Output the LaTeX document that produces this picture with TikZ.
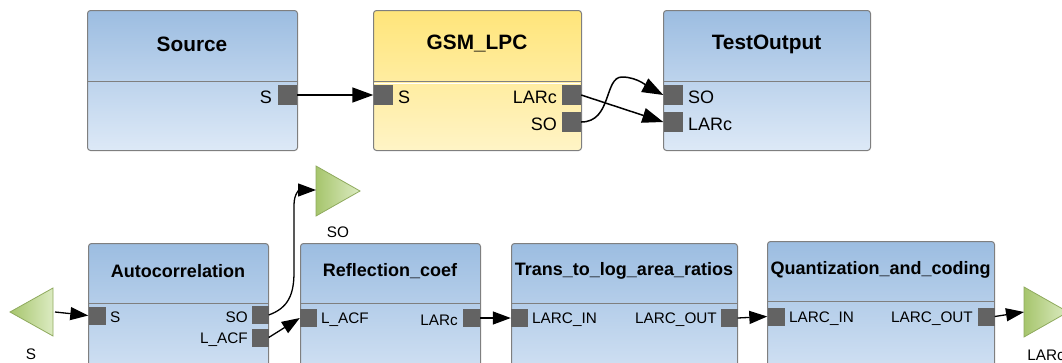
\documentclass[tikz,border=0pt]{standalone}
\usepackage{fontspec}
\setmainfont{Liberation Sans}
\usetikzlibrary{arrows.meta}
\definecolor{bord}{HTML}{7F7F7F}
\definecolor{blueA}{HTML}{9CBDE1}
\definecolor{blueB}{HTML}{DDE9F7}
\definecolor{yelA}{HTML}{FFE57A}
\definecolor{yelB}{HTML}{FFF4C6}
\definecolor{portc}{HTML}{636363}
\definecolor{grA}{HTML}{A6C56C}
\definecolor{grB}{HTML}{DCEBC2}
\definecolor{grBord}{HTML}{8FAA5E}
\begin{document}
\begin{tikzpicture}[x=1pt,y=-1pt,
  box/.style={draw=bord, line width=1pt, rounded corners=3pt, inner sep=0pt, anchor=north west},
  bluebox/.style={box, top color=blueA, bottom color=blueB},
  yelbox/.style={box, top color=yelA, bottom color=yelB},
  divline/.style={draw=bord, line width=1pt},
  ttop/.style={font=\bfseries\fontsize{20.8}{24}\selectfont, inner sep=0pt},
  tbot/.style={font=\bfseries\fontsize{18}{21}\selectfont, inner sep=0pt},
  ptop/.style={fill=portc, inner sep=0pt, minimum width=19pt, minimum height=20pt},
  pbot/.style={fill=portc, inner sep=0pt, minimum width=17pt, minimum height=18pt},
  ltop/.style={font=\fontsize{18}{21}\selectfont, inner sep=0pt},
  lbot/.style={font=\fontsize{15.3}{18}\selectfont, inner sep=0pt},
  tri/.style={draw=grBord, line width=0.8pt, left color=grA, right color=grB},
  cTop/.style={line width=1.5pt, -{Triangle[length=21pt,width=15pt]}},
  cBot/.style={line width=1.3pt, -{Triangle[length=18pt,width=13pt]}}
]
\useasboundingbox (0,0) rectangle (1062,362);
\clip (0,0) rectangle (1062,362);

% ---------- top row ----------
\node[bluebox, minimum width=210pt, minimum height=140pt] (source) at (87,10) {};
\node[yelbox, minimum width=208pt, minimum height=140pt] (gsm) at (373,10) {};
\node[bluebox, minimum width=207pt, minimum height=140pt] (test) at (663,10) {};
\draw[divline] (87,81) -- (297,81);
\draw[divline] (373,81) -- (581,81);
\draw[white, line width=1pt] (374,83) -- (580,83);
\draw[divline] (663,81) -- (870,81);

\node[ttop] (sourceT) at (192,44) {Source};
\node[ttop] (gsmT) at (477,44) {GSM\_LPC};
\node[ttop] (testT) at (766.5,44) {TestOutput};

\node[ptop] (srcS) at (287.5,95) {};
\node[ptop] (gsmS) at (383,95) {};
\node[ptop] (gsmLARc) at (571.5,95) {};
\node[ptop] (gsmSO) at (571.5,122) {};
\node[ptop] (testSO) at (673,95) {};
\node[ptop] (testLARc) at (673,122) {};

\node[ltop, anchor=east] (lsrcS) at (272,97) {S};
\node[ltop, anchor=west] (lgsmS) at (398,97) {S};
\node[ltop, anchor=east] (lgsmLARc) at (557,97) {LARc};
\node[ltop, anchor=east] (lgsmSO) at (557,124) {SO};
\node[ltop, anchor=west] (ltestSO) at (688,97) {SO};
\node[ltop, anchor=west] (ltestLARc) at (688,124) {LARc};

\coordinate (bendA) at (622,77);
\draw[cTop] (srcS.east) -- (gsmS.west);
\draw[cTop] (gsmLARc.east) -- (testLARc.west);
\draw[cTop] (gsmSO.east) .. controls (612,122) and (604,77) .. (bendA)
   .. controls (638,77) and (650,88) .. (testSO.west);

% ---------- bottom row ----------
\node[bluebox, minimum width=180pt, minimum height=160pt] (auto) at (88,243) {};
\node[bluebox, minimum width=180pt, minimum height=160pt] (refl) at (300,243) {};
\node[bluebox, minimum width=226pt, minimum height=160pt] (trans) at (511,243) {};
\node[bluebox, minimum width=227pt, minimum height=160pt] (quant) at (767,241) {};
\draw[divline] (88,303) -- (268,303);
\draw[divline] (300,303) -- (480,303);
\draw[divline] (511,303) -- (737,303);
\draw[divline] (767,301) -- (994,301);

\node[tbot] (autoT) at (178,271) {Autocorrelation};
\node[tbot] (reflT) at (390,271) {Reflection\_coef};
\node[tbot] (transT) at (624,271) {Trans\_to\_log\_area\_ratios};
\node[tbot] (quantT) at (880.5,270) {Quantization\_and\_coding};

\node[pbot] (autoS) at (97,315.5) {};
\node[pbot] (autoSO) at (260,315) {};
\node[pbot] (autoLACF) at (260,337.5) {};
\node[pbot] (reflLACF) at (308.5,318) {};
\node[pbot] (reflLARc) at (471.5,318) {};
\node[pbot] (transIn) at (519.5,318) {};
\node[pbot] (transOut) at (729,318) {};
\node[pbot] (quantIn) at (776,316.5) {};
\node[pbot] (quantOut) at (986,316.5) {};

\node[lbot, anchor=west] (lautoS) at (110,317.5) {S};
\node[lbot, anchor=east] (lautoSO) at (248,317) {SO};
\node[lbot, anchor=east] (lautoLACF) at (248,339.5) {L\_ACF};
\node[lbot, anchor=west] (lreflLACF) at (321,320) {L\_ACF};
\node[lbot, anchor=east] (lreflLARc) at (458,320) {LARc};
\node[lbot, anchor=west] (ltransIn) at (532,320) {LARC\_IN};
\node[lbot, anchor=east] (ltransOut) at (717,320) {LARC\_OUT};
\node[lbot, anchor=west] (lquantIn) at (789,318.5) {LARC\_IN};
\node[lbot, anchor=east] (lquantOut) at (973,318.5) {LARC\_OUT};

% ---------- interface triangles ----------
\path[tri] (53,288) -- (10,312) -- (53,336) -- cycle;
\coordinate (inS) at (55,312);
\node[lbot] (inSL) at (31,354) {S};

\path[tri] (316,166) -- (360,191) -- (316,216) -- cycle;
\coordinate (outSO) at (316,190);
\node[lbot] (outSOL) at (338,232) {SO};

\path[tri] (1024,287) -- (1068,312) -- (1024,337) -- cycle;
\coordinate (outLARc) at (1024,312);
\node[lbot] (outLARcL) at (1046,355) {LARc};

% ---------- bottom connectors ----------
\draw[cBot] (inS) -- (autoS.west);
\draw[cBot] (autoSO.east) .. controls (288,308) and (294,295) .. (294,272)
   -- (294,205) .. controls (294,193) and (300,190) .. (outSO);
\draw[cBot] (autoLACF.east) -- (reflLACF.west);
\draw[cBot] (reflLARc.east) -- (transIn.west);
\draw[cBot] (transOut.east) -- (quantIn.west);
\draw[cBot] (quantOut.east) -- (outLARc);
\end{tikzpicture}
\end{document}
